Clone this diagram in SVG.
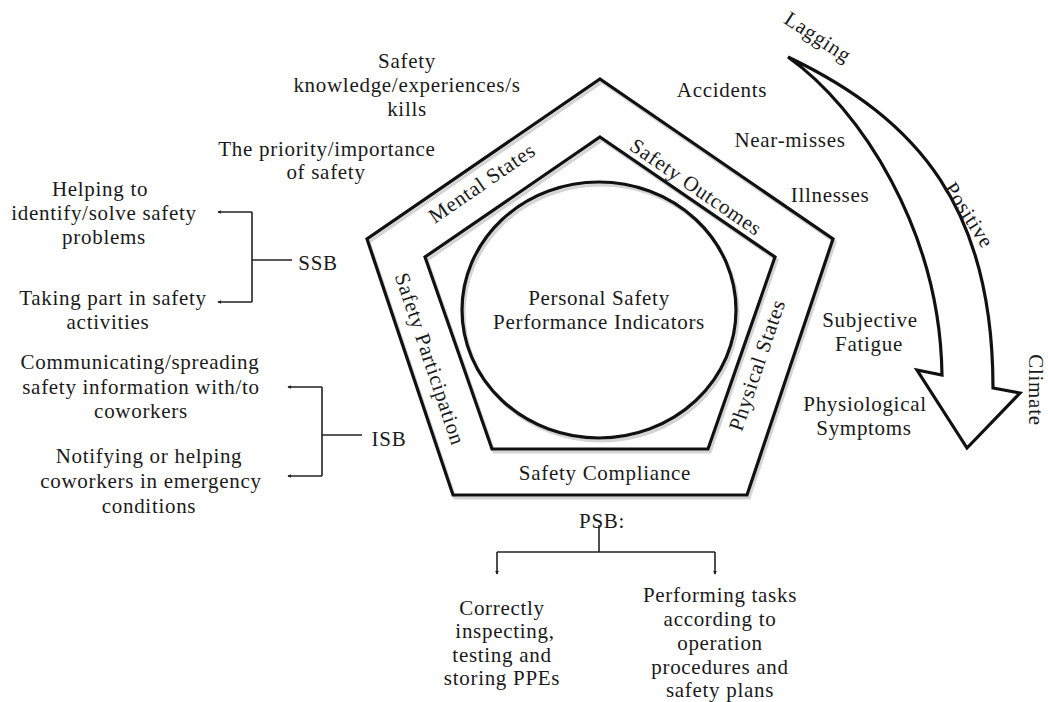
<svg xmlns="http://www.w3.org/2000/svg" width="1048" height="702" viewBox="0 0 1048 702">
<style>
text{font-family:"Liberation Serif","Times New Roman",serif;font-size:21px;fill:#1a1a1a;letter-spacing:0.7px;text-anchor:middle}
.rot{dominant-baseline:central}
.shape{fill:none;stroke:#111;stroke-width:3.2;stroke-linejoin:miter}
.shadow{fill:none;stroke:#d4d4d4;stroke-width:3.2}
.br{fill:none;stroke:#222;stroke-width:1.6}
</style>
<defs>
<marker id="ah" viewBox="0 0 6 6" refX="5" refY="3" markerWidth="4" markerHeight="4" orient="auto" markerUnits="userSpaceOnUse">
<path d="M0,0 L6,3 L0,6 Z" fill="#222"/>
</marker>
</defs>
<rect width="1048" height="702" fill="#fff"/>

<g id="pentagon-outer">
<polygon class="shadow" transform="translate(2,3)" points="600,79 833,239 747,495 453,495 367,239"/>
<polygon class="shape" points="600,79 833,239 747,495 453,495 367,239"/>
</g>
<g id="pentagon-inner">
<polygon class="shadow" transform="translate(2,3)" points="600,137 775,257 708,449 492,449 425,257"/>
<polygon class="shape" points="600,137 775,257 708,449 492,449 425,257"/>
</g>
<g id="center">
<ellipse class="shadow" transform="translate(2,3)" cx="599" cy="310" rx="137" ry="128"/>
<ellipse class="shape" cx="599" cy="310" rx="137" ry="128"/>
<text x="599" y="305">Personal Safety</text>
<text x="599" y="329">Performance Indicators</text>
</g>

<g id="band-labels">
<text class="rot" transform="translate(482,183) rotate(-34.5)">Mental States</text>
<text class="rot" transform="translate(696,187) rotate(34.5)">Safety Outcomes</text>
<text class="rot" transform="translate(430,359) rotate(71.4)">Safety Participation</text>
<text class="rot" transform="translate(757,365) rotate(-71.4)">Physical States</text>
<text x="605" y="480">Safety Compliance</text>
</g>

<g id="mental-items">
<text x="407" y="68">Safety</text>
<text x="407" y="92">knowledge/experiences/s</text>
<text x="407" y="116">kills</text>
<text x="327" y="156">The priority/importance</text>
<text x="326" y="179">of safety</text>
</g>

<g id="outcome-items">
<text x="722" y="97">Accidents</text>
<text x="790" y="147">Near-misses</text>
<text x="830" y="202">Illnesses</text>
</g>

<g id="physical-items">
<text x="870" y="327">Subjective</text>
<text x="869" y="351">Fatigue</text>
<text x="865" y="411">Physiological</text>
<text x="864" y="435">Symptoms</text>
</g>

<g id="lagging-arrow">
<path class="shape" fill="#fff" style="fill:#fff" d="M788,57 C860,108 940,230 942,375 L917,370 L967,448 L1020,393 L993,388 C993,210 920,120 788,57 Z"/>
<text class="rot" transform="translate(818,37) rotate(33)">Lagging</text>
<text class="rot" transform="translate(969,215) rotate(57)">Positive</text>
<text class="rot" transform="translate(1036,390) rotate(90)">Climate</text>
</g>

<g id="ssb">
<text x="318" y="270">SSB</text>
<text x="100" y="196">Helping to</text>
<text x="104" y="220">identify/solve safety</text>
<text x="104" y="244">problems</text>
<text x="113" y="305">Taking part in safety</text>
<text x="108" y="329">activities</text>
</g>

<g id="isb">
<text x="389" y="446">ISB</text>
<text x="140" y="369">Communicating/spreading</text>
<text x="141" y="394">safety information with/to</text>
<text x="141" y="418">coworkers</text>
<text x="149" y="463">Notifying or helping</text>
<text x="151" y="488">coworkers in emergency</text>
<text x="149" y="513">conditions</text>
</g>

<g id="psb">
<text x="602" y="528">PSB:</text>
<text x="502" y="615">Correctly</text>
<text x="505" y="638">inspecting,</text>
<text x="502" y="662">testing and</text>
<text x="502" y="685">storing PPEs</text>
<text x="720" y="602">Performing tasks</text>
<text x="720" y="626">according to</text>
<text x="720" y="650">operation</text>
<text x="720" y="674">procedures and</text>
<text x="720" y="697">safety plans</text>
</g>

<g id="connectors">
<path class="br" d="M292,260 H252"/>
<path class="br" d="M252,212 V302"/>
<path class="br" d="M252,212 H218" marker-end="url(#ah)"/>
<path class="br" d="M252,302 H218" marker-end="url(#ah)"/>
<path class="br" d="M362,435 H322"/>
<path class="br" d="M322,387 V476"/>
<path class="br" d="M322,387 H288" marker-end="url(#ah)"/>
<path class="br" d="M322,476 H288" marker-end="url(#ah)"/>
<path class="br" d="M599,525 V552"/>
<path class="br" d="M497,552 H715"/>
<path class="br" d="M497,552 V574" marker-end="url(#ah)"/>
<path class="br" d="M715,552 V574" marker-end="url(#ah)"/>
</g>
</svg>
